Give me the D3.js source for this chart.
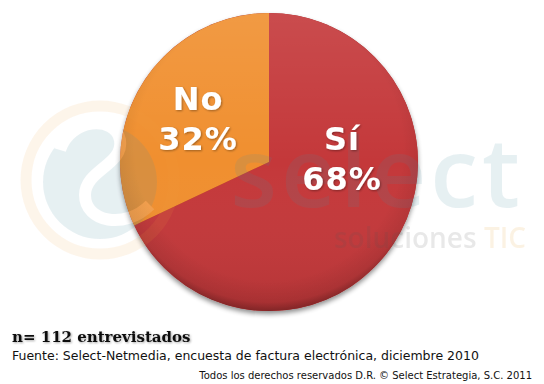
<!DOCTYPE html>
<html>
<head>
<meta charset="utf-8">
<script src="https://cdn.jsdelivr.net/npm/d3@7"></script>
<style>
  body { margin: 0; background: #fff; }
  svg { display: block; }
</style>
</head>
<body>
<div id="container"></div>
<script>
/* DATA */
const categories = ["Sí", "No"]
const values = [68, 32]
const colors = ["#c4383a", "#f08f2f"]

const sampleNote = "n= 112 entrevistados"
const sourceNote = "Fuente: Select-Netmedia, encuesta de factura electrónica, diciembre 2010"
const rightsNote = "Todos los derechos reservados D.R. © Select Estrategia, S.C. 2011"

/* LAYOUT */
const width = 544, height = 384
const cx = 269, cy = 162, radius = 149

const svg = d3.select("#container")
  .append("svg")
    .attr("width", width)
    .attr("height", height)

const defs = svg.append("defs")

// shading for the pie: darker rim, lighter top
const rim = defs.append("radialGradient")
  .attr("id", "rim")
  .attr("cx", "50%").attr("cy", "45%").attr("r", "56%")
rim.append("stop").attr("offset", "0.80").attr("stop-color", "#000").attr("stop-opacity", 0)
rim.append("stop").attr("offset", "0.93").attr("stop-color", "#000").attr("stop-opacity", 0.08)
rim.append("stop").attr("offset", "1").attr("stop-color", "#000").attr("stop-opacity", 0.35)

const gloss = defs.append("linearGradient")
  .attr("id", "gloss")
  .attr("x1", 0).attr("y1", 0).attr("x2", 0).attr("y2", 1)
gloss.append("stop").attr("offset", "0").attr("stop-color", "#fff").attr("stop-opacity", 0.10)
gloss.append("stop").attr("offset", "0.5").attr("stop-color", "#fff").attr("stop-opacity", 0)
gloss.append("stop").attr("offset", "1").attr("stop-color", "#000").attr("stop-opacity", 0.08)

const shadow = defs.append("filter").attr("id", "shadow")
  .attr("x", "-10%").attr("y", "-10%").attr("width", "120%").attr("height", "125%")
shadow.append("feGaussianBlur").attr("in", "SourceAlpha").attr("stdDeviation", 2.5)
shadow.append("feOffset").attr("dy", 3).attr("result", "b")
shadow.append("feComponentTransfer").append("feFuncA").attr("type", "linear").attr("slope", 0.45)
const merge = shadow.append("feMerge")
merge.append("feMergeNode")
merge.append("feMergeNode").attr("in", "SourceGraphic")

const textShadow = defs.append("filter").attr("id", "tshadow")
textShadow.append("feDropShadow").attr("dx", 1).attr("dy", 1)
  .attr("stdDeviation", 0.8).attr("flood-color", "#000").attr("flood-opacity", 0.35)

// PIE
const pie = d3.pie().sort(null).value(d => d.value)
const arc = d3.arc().innerRadius(0).outerRadius(radius)
const slices = pie(categories.map((c, i) => ({ name: c, value: values[i], color: colors[i] })))

const g = svg.append("g").attr("transform", `translate(${cx},${cy})`)

g.append("circle").attr("r", radius).attr("fill", "#a02c2c").attr("filter", "url(#shadow)")

g.selectAll("path.slice")
  .data(slices)
  .join("path")
    .attr("class", "slice")
    .attr("d", arc)
    .attr("fill", d => d.data.color)

g.append("circle").attr("r", radius).attr("fill", "url(#gloss)")
g.append("circle").attr("r", radius).attr("fill", "url(#rim)")

// WATERMARK (semi transparent over everything)
const wm = svg.append("g").attr("opacity", 0.13)
wm.append("circle").attr("cx", 100).attr("cy", 180).attr("r", 74)
  .attr("fill", "none").attr("stroke", "#f0a040").attr("stroke-width", 11).attr("opacity", 0.8)
wm.append("circle").attr("cx", 100).attr("cy", 182).attr("r", 57).attr("fill", "#4a8fa3")
wm.append("path")
  .attr("d", "M60,150 C70,118 115,115 120,140 C124,165 85,170 85,195 C85,222 125,230 150,205")
  .attr("fill", "none").attr("stroke", "#fff").attr("stroke-width", 12)
wm.append("text")
  .attr("x", 524).attr("y", 207)
  .attr("text-anchor", "end")
  .style("font-family", "'Open Sans', sans-serif")
  .style("font-weight", 600)
  .style("font-size", "96px")
  .style("letter-spacing", "4px")
  .attr("fill", "#4a8fa3")
  .text("select")
const tag = wm.append("text")
  .attr("x", 526).attr("y", 248)
  .attr("text-anchor", "end")
  .style("font-family", "'Open Sans', sans-serif")
  .style("font-weight", 600)
  .style("font-size", "28px")
tag.append("tspan").attr("fill", "#555").text("soluciones ")
tag.append("tspan").attr("fill", "#e8a030").text("TIC")

// LABELS
const labelPos = { "Sí": [73, -3], "No": [-71, -43] }
const labels = svg.append("g")
  .attr("transform", `translate(${cx},${cy})`)
  .attr("filter", "url(#tshadow)")
slices.forEach(d => {
  const [lx, ly] = labelPos[d.data.name]
  const t = labels.append("text")
    .attr("text-anchor", "middle")
    .style("font-family", "'DejaVu Sans', Verdana, sans-serif")
    .style("font-weight", "bold")
    .style("font-size", "32px")
    .style("letter-spacing", "1px")
    .attr("fill", "#fff")
  t.append("tspan").attr("x", lx).attr("y", ly - 9).text(d.data.name)
  t.append("tspan").attr("x", lx).attr("y", ly + 31).text(d.data.value + "%")
})

// NOTES
svg.append("text")
  .attr("x", 12).attr("y", 342)
  .attr("filter", "url(#tshadow)")
  .style("font-family", "'DejaVu Serif', serif")
  .style("font-weight", "bold")
  .style("font-size", "15px")
  .attr("fill", "#111")
  .text(sampleNote)

svg.append("text")
  .attr("x", 12).attr("y", 360)
  .style("font-family", "'DejaVu Sans', Verdana, sans-serif")
  .style("font-size", "12.5px")
  .attr("fill", "#111")
  .text(sourceNote)

svg.append("text")
  .attr("x", 532).attr("y", 379)
  .attr("text-anchor", "end")
  .style("font-family", "'DejaVu Sans', Verdana, sans-serif")
  .style("font-size", "10px")
  .attr("fill", "#111")
  .text(rightsNote)
</script>
</body>
</html>
